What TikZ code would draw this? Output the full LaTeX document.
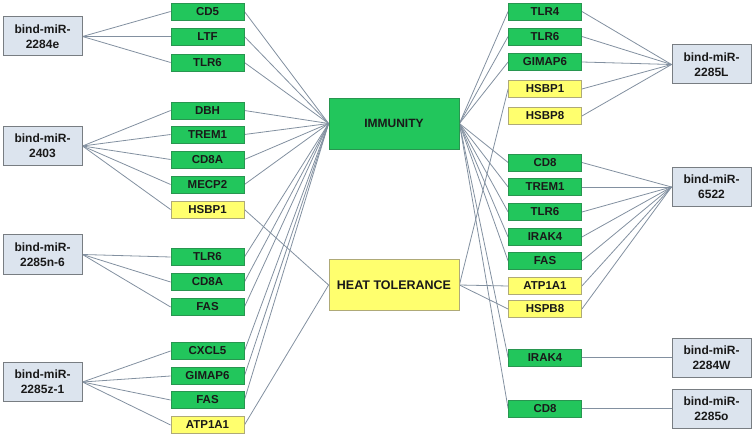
\documentclass[tikz,border=0pt]{standalone}
\usepackage{fontspec}
\setmainfont{Liberation Sans}
\usetikzlibrary{backgrounds}
\definecolor{gfill}{RGB}{34,198,92}
\definecolor{gdraw}{RGB}{40,150,80}
\definecolor{yfill}{RGB}{255,255,110}
\definecolor{ydraw}{RGB}{175,170,120}
\definecolor{mfill}{RGB}{220,228,238}
\definecolor{mdraw}{RGB}{120,125,130}
\definecolor{edgec}{RGB}{130,144,160}
\tikzset{
  gene/.style={draw=gdraw,fill=gfill,line width=0.8pt,minimum width=73pt,minimum height=17pt,inner sep=0pt,font=\bfseries\fontsize{11.5}{12}\selectfont,text=black!90},
  ygene/.style={gene,draw=ydraw,fill=yfill},
  mir/.style={draw=mdraw,fill=mfill,line width=1pt,minimum width=79pt,minimum height=39pt,inner sep=0pt,align=center,font=\bfseries\fontsize{12}{15}\selectfont,text=black!90},
  big/.style={draw=gdraw,fill=gfill,line width=0.8pt,minimum width=130pt,minimum height=51pt,inner sep=0pt,font=\bfseries\fontsize{12}{13}\selectfont,text=black!90},
  ybig/.style={big,draw=ydraw,fill=yfill,font=\bfseries\fontsize{12.5}{13}\selectfont},
  link/.style={draw=edgec,line width=0.8pt}
}
\begin{document}
\begin{tikzpicture}[x=1pt,y=-1pt]
\useasboundingbox (0,0) rectangle (754,438);
% hubs
\node[big] (imm) at (394,123.5) {IMMUNITY};
\node[ybig] (ht) at (394,285) {HEAT TOLERANCE};
% left miRs
\node[mir] (m1) at (42.5,36.5) {bind-miR-\\2284e};
\node[mir] (m2) at (42.5,146) {bind-miR-\\2403};
\node[mir] (m3) at (42.5,254.5) {bind-miR-\\2285n-6};
\node[mir] (m4) at (42.5,382) {bind-miR-\\2285z-1};
% right miRs
\node[mir] (r1) at (711.5,64.5) {bind-miR-\\2285L};
\node[mir] (r2) at (711.5,187) {bind-miR-\\6522};
\node[mir] (r3) at (711.5,357.5) {bind-miR-\\2284W};
\node[mir] (r4) at (711.5,408.5) {bind-miR-\\2285o};
% left genes
\node[gene] (l1) at (207.5,11.5) {CD5};
\node[gene] (l2) at (207.5,36.5) {LTF};
\node[gene] (l3) at (207.5,62.5) {TLR6};
\node[gene] (l4) at (207.5,110.5) {DBH};
\node[gene] (l5) at (207.5,134.5) {TREM1};
\node[gene] (l6) at (207.5,159.5) {CD8A};
\node[gene] (l7) at (207.5,184.5) {MECP2};
\node[ygene] (l8) at (207.5,209.5) {HSBP1};
\node[gene] (l9) at (207.5,257) {TLR6};
\node[gene] (l10) at (207.5,282) {CD8A};
\node[gene] (l11) at (207.5,307) {FAS};
\node[gene] (l12) at (207.5,351) {CXCL5};
\node[gene] (l13) at (207.5,376) {GIMAP6};
\node[gene] (l14) at (207.5,400) {FAS};
\node[ygene] (l15) at (207.5,425) {ATP1A1};
% right genes
\node[gene] (g1) at (545,11.5) {TLR4};
\node[gene] (g2) at (545,36.5) {TLR6};
\node[gene] (g3) at (545,62) {GIMAP6};
\node[ygene] (g4) at (545,89) {HSBP1};
\node[ygene] (g5) at (545,116) {HSBP8};
\node[gene] (g6) at (545,162.5) {CD8};
\node[gene] (g7) at (545,187) {TREM1};
\node[gene] (g8) at (545,212) {TLR6};
\node[gene] (g9) at (545,237) {IRAK4};
\node[gene] (g10) at (545,261) {FAS};
\node[ygene] (g11) at (545,286) {ATP1A1};
\node[ygene] (g12) at (545,309) {HSPB8};
\node[gene] (g13) at (545,357.5) {IRAK4};
\node[gene] (g14) at (545,408.5) {CD8};
\begin{scope}[on background layer]
% left miR -> genes
\foreach \g in {l1,l2,l3} \draw[link] (m1.east) -- (\g.west);
\foreach \g in {l4,l5,l6,l7,l8} \draw[link] (m2.east) -- (\g.west);
\foreach \g in {l9,l10,l11} \draw[link] (m3.east) -- (\g.west);
\foreach \g in {l12,l13,l14,l15} \draw[link] (m4.east) -- (\g.west);
% left genes -> hubs
\foreach \g in {l1,l2,l3,l4,l5,l6,l7,l9,l10,l11,l12,l13,l14} \draw[link] (\g.east) -- (imm.west);
\foreach \g in {l8,l15} \draw[link] (\g.east) -- (ht.west);
% hubs -> right genes
\foreach \g in {g1,g2,g3,g6,g7,g8,g9,g10,g13,g14} \draw[link] (imm.east) -- (\g.west);
\foreach \g in {g4,g11,g12} \draw[link] (ht.east) -- (\g.west);
% right genes -> right miRs
\foreach \g in {g1,g2,g3,g4,g5} \draw[link] (\g.east) -- (r1.west);
\foreach \g in {g6,g7,g8,g9,g10,g11,g12} \draw[link] (\g.east) -- (r2.west);
\draw[link] (g13.east) -- (r3.west);
\draw[link] (g14.east) -- (r4.west);
\end{scope}
\end{tikzpicture}
\end{document}
